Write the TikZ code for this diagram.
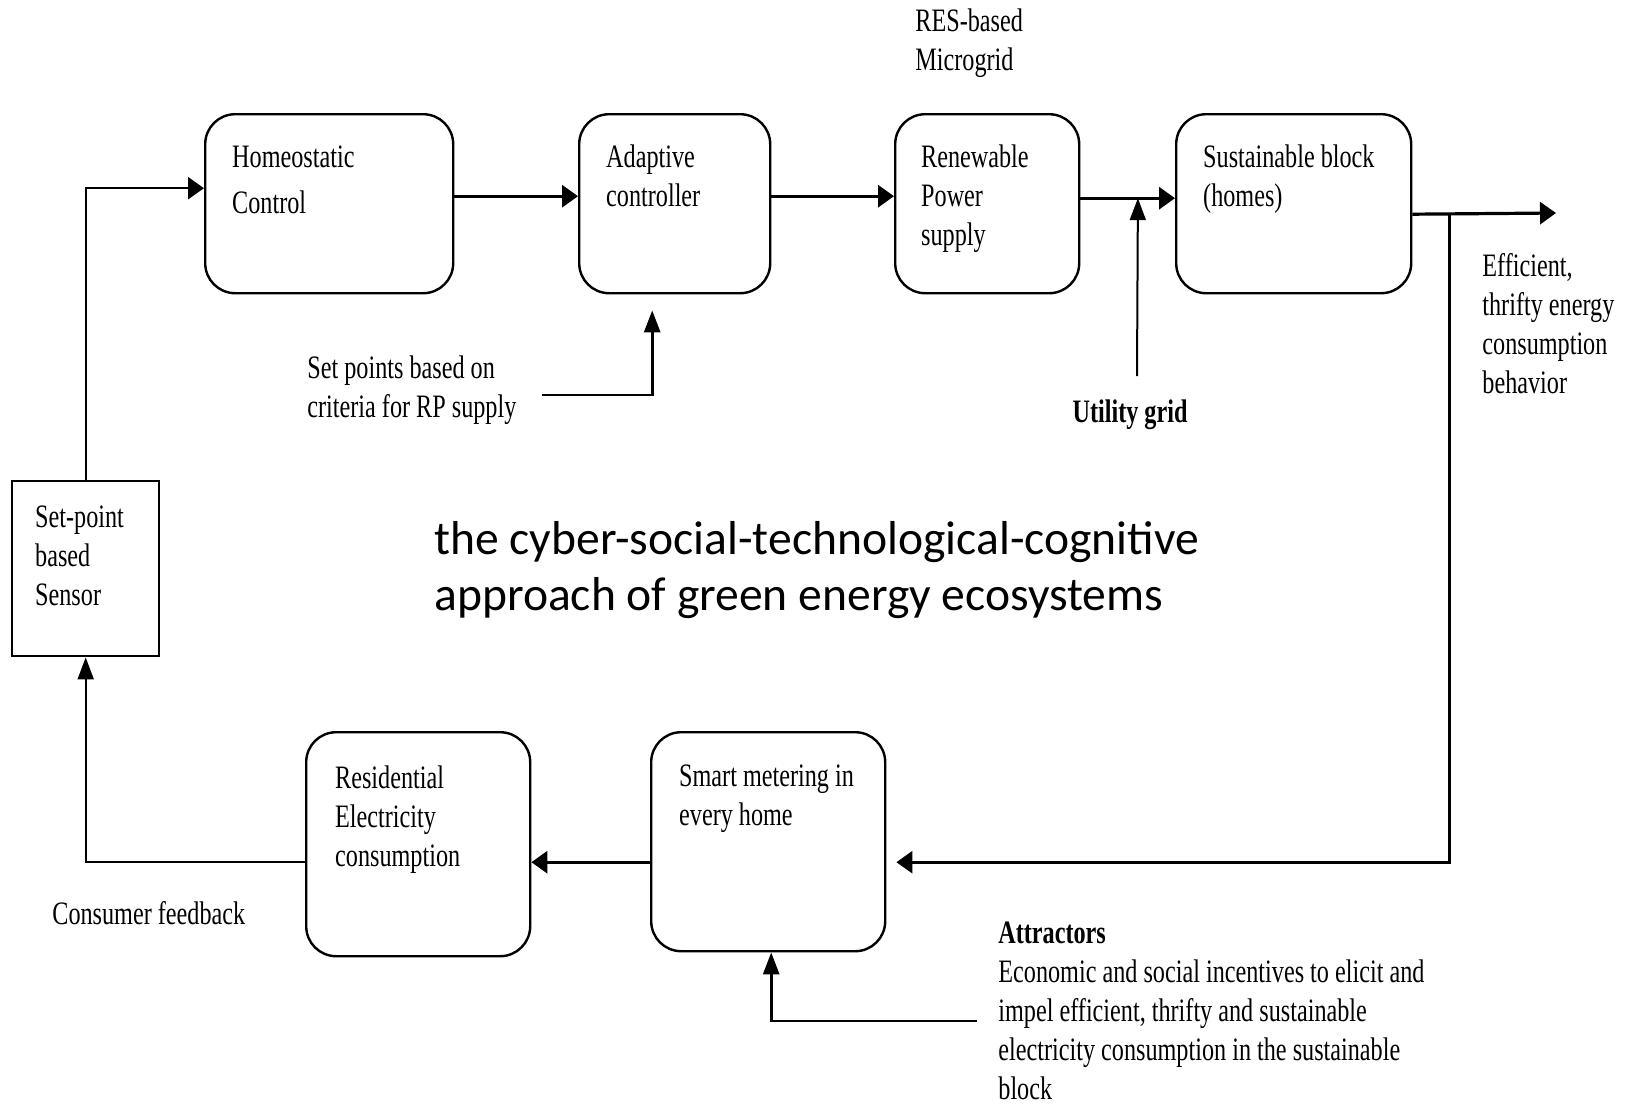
\documentclass[tikz,border=0pt]{standalone}
\usepackage{fontspec}
\setmainfont[FakeStretch=0.74]{Liberation Serif}
\newfontfamily\titlefont{Carlito}
\usetikzlibrary{arrows.meta}

% box text: width, height, left pad, first baseline (all in px), text
\newcommand{\blocktext}[5]{\parbox[t][\dimexpr#2pt/2\relax][t]{\dimexpr#1pt/2\relax}{\leftskip=\dimexpr#3pt/2\relax\rule{0pt}{\dimexpr#4pt/2\relax}#5}}

\begin{document}
\begin{tikzpicture}[
x=0.5pt, y=-0.5pt,
font=\fontsize{16.35}{19.5}\selectfont,
block/.style={draw, line width=1.2pt, rounded corners=15pt, inner sep=0pt, anchor=north west},
sensorbox/.style={draw, line width=1.2pt, inner sep=0pt, anchor=north west},
lbl/.style={inner sep=0pt, anchor=base west, align=left},
flow/.style={-{Triangle[length=8pt,width=11pt]}, line width=1.6pt},
rise/.style={-{Triangle[length=11pt,width=8pt]}, line width=1.3pt}
]
\path[use as bounding box, fill=white] (0,0) rectangle (1630,1104);

\node[block] (hc) at (204,113) {\blocktext{248}{179}{27}{53}{Homeostatic\\[3.5pt]Control}};
\node[block] (ac) at (578,113) {\blocktext{191}{179}{27}{53}{Adaptive\\controller}};
\node[block] (rp) at (894,113) {\blocktext{184}{179}{26}{53}{Renewable\\Power\\supply}};
\node[block] (sb) at (1175,113) {\blocktext{235}{179}{27}{53}{Sustainable block\\(homes)}};
\node[sensorbox] (sn) at (11,480) {\blocktext{147}{175}{23}{46}{Set-point\\based\\Sensor}};
\node[block] (rc) at (305,731) {\blocktext{224}{224}{29}{56}{Residential\\Electricity\\consumption}};
\node[block] (sm) at (650,731) {\blocktext{234}{219}{28}{54}{Smart metering in\\every home}};

% multi-line labels sit on their last baseline
\node[lbl] (res) at (915,70) {RES-based\\Microgrid};
\node[lbl] (setp) at (307,417) {Set points based on\\criteria for RP supply};
\node[lbl, anchor=base] (grid) at (1130,422) {\textbf{Utility grid}};
\node[lbl] (eff) at (1482,393) {Efficient,\\thrifty energy\\consumption\\behavior};
\node[lbl] (cf) at (52,924) {Consumer feedback};
\node[lbl] (attr) at (998,1099) {\textbf{Attractors}\\Economic and social incentives to elicit and\\impel efficient, thrifty and sustainable\\electricity consumption in the sustainable\\block};
\node[lbl, font=\titlefont\fontsize{23.8}{28}\selectfont] (title) at (434,610) {the cyber-social-technological-cognitive\\approach of green energy ecosystems};

\coordinate (gridtail) at (1137,376);
\coordinate (outhead) at (1556,213);
\coordinate (setpts) at (542,395);
\coordinate (attract) at (977,1021);

\draw[flow, line width=1.2pt] (sn.north) |- ([yshift=7.75pt]hc.west);
\draw[flow] ([yshift=3.75pt]hc.east) -- ([yshift=3.75pt]ac.west);
\draw[flow] ([yshift=3.75pt]ac.east) -- ([yshift=3.75pt]rp.west);
\draw[flow] ([yshift=2.75pt]rp.east) -- coordinate[pos=0.608] (tap) ([yshift=2.75pt]sb.west);
\draw[rise, line width=1pt] (gridtail) -- (tap);
\draw[flow] ([yshift=-5.25pt]sb.east) -- coordinate[pos=0.26] (split) (outhead);
\draw[flow, line width=1.3pt] (split) |- ([xshift=5pt,yshift=-10.25pt]sm.east);
\draw[flow] ([yshift=-10.25pt]sm.west) -- ([yshift=-9pt]rc.east);
\draw[rise, line width=1pt] ([yshift=-9pt]rc.west) -| (sn.south);
\draw[rise, line width=1.4pt] (setpts) -| ([xshift=-11.25pt,yshift=-8pt]ac.south);
\draw[rise] (attract) -| ([xshift=1.5pt]sm.south);
\end{tikzpicture}
\end{document}
